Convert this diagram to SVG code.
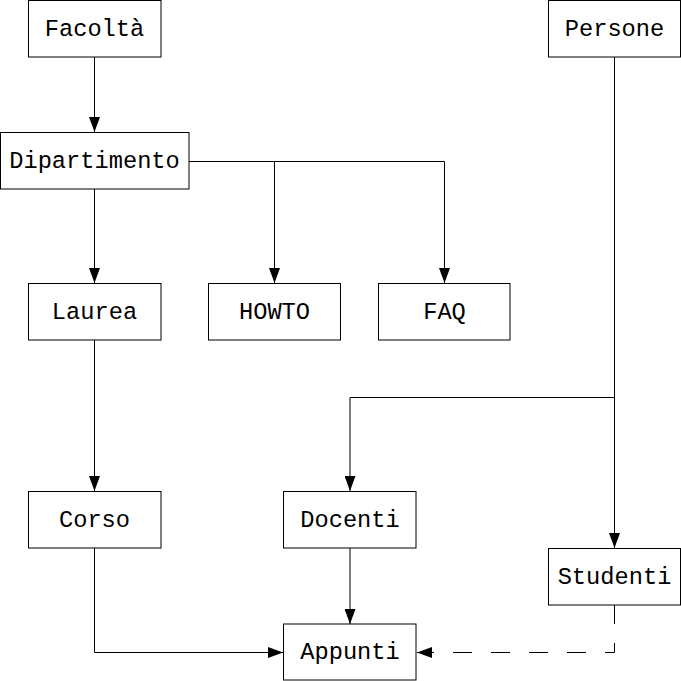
<svg xmlns="http://www.w3.org/2000/svg" width="681" height="681" viewBox="0 0 681 681">
<style>
.box{fill:#fff;stroke:#000;stroke-width:1}
.lbl{font-family:"Liberation Mono","Courier New",monospace;font-size:23.7px;text-anchor:middle;fill:#000}
.edge{fill:none;stroke:#000;stroke-width:1}
.dash{stroke-dasharray:19 19}
</style>
<defs>
<marker id="arr" markerUnits="userSpaceOnUse" markerWidth="15" markerHeight="11" refX="15" refY="5.5" orient="auto" viewBox="0 0 15 11">
<path d="M0,0 L15,5.5 L0,11 Z" fill="#000"/>
</marker>
</defs>
<rect width="681" height="681" fill="#fff"/>
<g id="connectors">
<path class="edge" d="M94.5,57 V132" marker-end="url(#arr)"/>
<path class="edge" d="M94.5,189 V283" marker-end="url(#arr)"/>
<path class="edge" d="M189,161.5 H274.5 V283" marker-end="url(#arr)"/>
<path class="edge" d="M274.5,161.5 H444.5 V283" marker-end="url(#arr)"/>
<path class="edge" d="M94.5,340 V491" marker-end="url(#arr)"/>
<path class="edge" d="M94.5,548 V652.5 H283" marker-end="url(#arr)"/>
<path class="edge" d="M614.5,57 V548" marker-end="url(#arr)"/>
<path class="edge" d="M614.5,397.5 H350 V491" marker-end="url(#arr)"/>
<path class="edge" d="M350,548 V624" marker-end="url(#arr)"/>
<path class="edge dash" d="M614.5,605 V652.5 H417" marker-end="url(#arr)"/>
</g>
<g id="facolta"><rect class="box" x="28.5" y="0.5" width="132.5" height="56.5"/><text class="lbl" x="94.5" y="35.5">Facoltà</text></g>
<g id="persone"><rect class="box" x="548.5" y="0.5" width="132" height="56.5"/><text class="lbl" x="614.5" y="35.5">Persone</text></g>
<g id="dipartimento"><rect class="box" x="0.5" y="132.5" width="188.5" height="56.5"/><text class="lbl" x="94.5" y="167.5">Dipartimento</text></g>
<g id="laurea"><rect class="box" x="28.5" y="283.5" width="132.5" height="56.5"/><text class="lbl" x="94.5" y="318.5">Laurea</text></g>
<g id="howto"><rect class="box" x="208.5" y="283.5" width="132" height="56.5"/><text class="lbl" x="274.5" y="318.5">HOWTO</text></g>
<g id="faq"><rect class="box" x="378.5" y="283.5" width="131.5" height="56.5"/><text class="lbl" x="444.5" y="318.5">FAQ</text></g>
<g id="corso"><rect class="box" x="28.5" y="491.5" width="132.5" height="56.5"/><text class="lbl" x="94.5" y="526.5">Corso</text></g>
<g id="docenti"><rect class="box" x="283.5" y="491.5" width="132.5" height="56.5"/><text class="lbl" x="350" y="526.5">Docenti</text></g>
<g id="studenti"><rect class="box" x="548.5" y="548.5" width="132" height="56.5"/><text class="lbl" x="614.5" y="583.5">Studenti</text></g>
<g id="appunti"><rect class="box" x="283.5" y="624" width="132.5" height="56"/><text class="lbl" x="350" y="659">Appunti</text></g>
</svg>
